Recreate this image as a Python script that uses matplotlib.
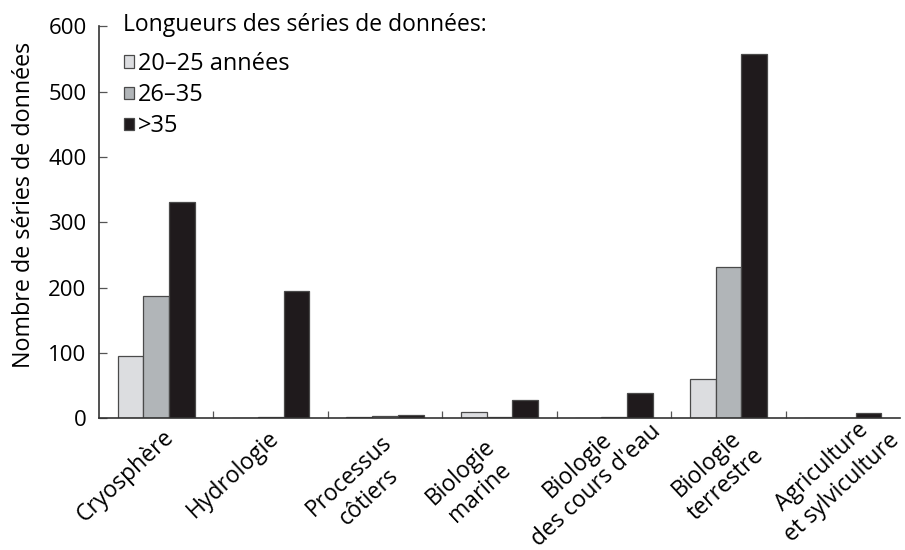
import numpy as np
import matplotlib.pyplot as plt

plt.rcParams['font.family'] = ['Open Sans', 'DejaVu Sans']

# Dati
categorie = ['Cryosphère', 'Hydrologie', 'Processus\ncôtiers', 'Biologie\nmarine',
             "Biologie\ndes cours d'eau", 'Biologie\nterrestre', 'Agriculture\net sylviculture']
serie_20_25 = [95, 0, 2, 9, 0, 60, 0]
serie_26_35 = [187, 2, 4, 2, 2, 231, 0]
serie_oltre_35 = [331, 195, 5, 28, 39, 558, 8]
etichette = ['20–25 années', '26–35', '>35']
colori = ['#dcdde0', '#b1b5b8', '#1f1a1c']

# spostamento (pixel) del centro di ogni etichetta rispetto al centro del gruppo
spost_etichette = [(-31, -58), (-38, -56), (-26, -68), (-29, -64), (-27, -57), (-12, -56), (-11, -59)]

fig = plt.figure(figsize=(9.05, 5.5), dpi=100)
ax = fig.add_axes([0.1094, 0.2394, 0.8851, 0.7126])

x = np.arange(len(categorie))
w = 0.225
for i, (vals, lab, col) in enumerate(zip([serie_20_25, serie_26_35, serie_oltre_35], etichette, colori)):
    ax.bar(x + (i - 1) * w, vals, w, color=col, edgecolor='#4a4a4a', linewidth=0.9, label=lab)

ax.set_xlim(-0.5, len(categorie) - 0.5)
ax.set_ylim(0, 600)
ax.set_yticks(range(0, 601, 100))
ax.tick_params(axis='y', direction='in', length=6, width=0.9, color='#555555', labelsize=16, pad=9)
ax.set_xticks(np.arange(0.5, len(categorie) - 1, 1))
ax.set_xticklabels([])
ax.tick_params(axis='x', direction='in', length=5, width=0.9, color='#555555')
for s in ['top', 'right']:
    ax.spines[s].set_visible(False)
for s in ['left', 'bottom']:
    ax.spines[s].set_color('#333333')
    ax.spines[s].set_linewidth(1.2)

ax.set_ylabel('Nombre de séries de données', fontsize=16.8)
ax.yaxis.set_label_coords(-0.079, 0.544)

# Etichette ruotate delle categorie
for xi, cat, (dx, dy) in zip(x, categorie, spost_etichette):
    ax.annotate(cat, xy=(xi, 0), xytext=(dx, dy), textcoords='offset pixels',
                rotation=43, ha='center', va='center', rotation_mode='anchor',
                multialignment='center', linespacing=1.25, fontsize=16.5, annotation_clip=False)

# Legenda con titolo separato
fig.text(123 / 905, 1 - 25 / 550, 'Longueurs des séries de données:', fontsize=16.5,
         ha='left', va='center')
leg = ax.legend(loc='upper left', bbox_to_anchor=(124 / 905, 1 - 52 / 550),
                bbox_transform=fig.transFigure, frameon=False, fontsize=17,
                handlelength=0.42, handleheight=0.42, handletextpad=0.17, labelspacing=0.3,
                borderpad=0, borderaxespad=0)

plt.savefig('out.png', dpi=100)
